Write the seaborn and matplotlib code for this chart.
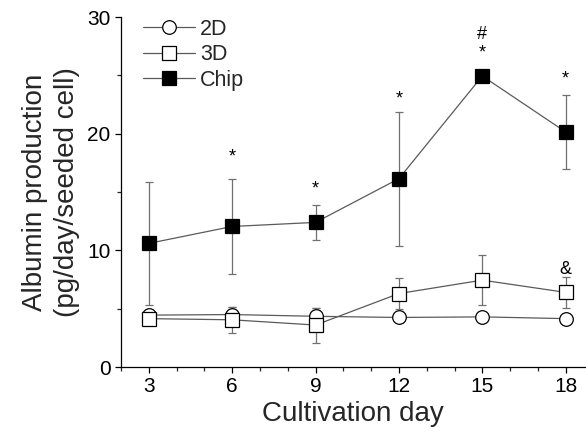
import matplotlib
matplotlib.use("Agg")
import matplotlib.pyplot as plt
import seaborn as sns
import numpy as np

days = [3, 6, 9, 12, 15, 18]
d2_mean = [4.45, 4.5, 4.35, 4.25, 4.3, 4.15]
d2_sd = [0.3, 0.65, 0.75, 0.3, 0.3, 0.3]
d3_mean = [4.15, 4.05, 3.6, 6.3, 7.45, 6.4]
d3_sd = [0.45, 1.1, 1.5, 1.35, 2.15, 1.35]
chip_mean = [10.6, 12.05, 12.4, 16.15, 24.95, 20.15]
chip_sd = [5.3, 4.05, 1.5, 5.75, 0.3, 3.15]

annot_text = ["*", "*", "*", "*", "#", "*", "&"]
annot_x = [6, 9, 12, 15, 15, 18, 18]
annot_y = [18.0, 15.3, 23.0, 26.9, 28.5, 24.7, 8.4]

x_label = "Cultivation day"
y_label = "Albumin production\n(pg/day/seeded cell)"

sns.set_style("ticks")
plt.rcParams['font.family'] = ['Liberation Sans', 'DejaVu Sans']

fig = plt.figure(figsize=(5.86, 4.38), dpi=100)
ax = fig.add_axes([0.2065, 0.162, 0.792, 0.799])

series = [
    ("2D", d2_mean, d2_sd, "o", "white"),
    ("3D", d3_mean, d3_sd, "s", "white"),
    ("Chip", chip_mean, chip_sd, "s", "black"),
]
line_col = "#5a5a5a"
for name, m, s, mk, fc in series:
    ax.errorbar(days, m, yerr=s, fmt="none", ecolor="#707070", elinewidth=0.9,
                capsize=3, capthick=0.9, zorder=1)
    sns.lineplot(x=days, y=m, ax=ax, color=line_col, linewidth=0.9, marker=mk,
                 markersize=10 if mk == "s" else 9.8, markerfacecolor=fc,
                 markeredgecolor="black", markeredgewidth=0.9, label=name,
                 zorder=3)

for t, x, y in zip(annot_text, annot_x, annot_y):
    ax.text(x, y, t, ha="center", va="center", fontsize=13, color="black")

ax.set_xlim(2, 18.7)
ax.set_ylim(0, 30)
ax.set_xticks(days)
ax.set_xticks(np.arange(2, 19, 1), minor=True)
ax.set_yticks([0, 10, 20, 30])
ax.set_yticks([5, 15, 25], minor=True)
ax.tick_params(axis="both", which="major", labelsize=15, length=4.5, width=0.9,
               direction="out", colors="black", pad=3)
ax.tick_params(axis="both", which="minor", length=3, width=0.9, direction="out")
for sp in ["top", "right"]:
    ax.spines[sp].set_visible(False)
for sp in ["left", "bottom"]:
    ax.spines[sp].set_linewidth(0.9)
    ax.spines[sp].set_color("black")

ax.set_xlabel(x_label, fontsize=20, labelpad=3)
ax.set_ylabel(y_label, fontsize=20, labelpad=5, linespacing=1.3)

leg = ax.legend(loc="upper left", bbox_to_anchor=(143 / 586, 1 - 19 / 438),
                bbox_transform=fig.transFigure, frameon=False,
                fontsize=15.5, handlelength=2.4, handletextpad=0.25,
                labelspacing=0.2, borderaxespad=0, borderpad=0)

fig.savefig("out.png", dpi=100)
